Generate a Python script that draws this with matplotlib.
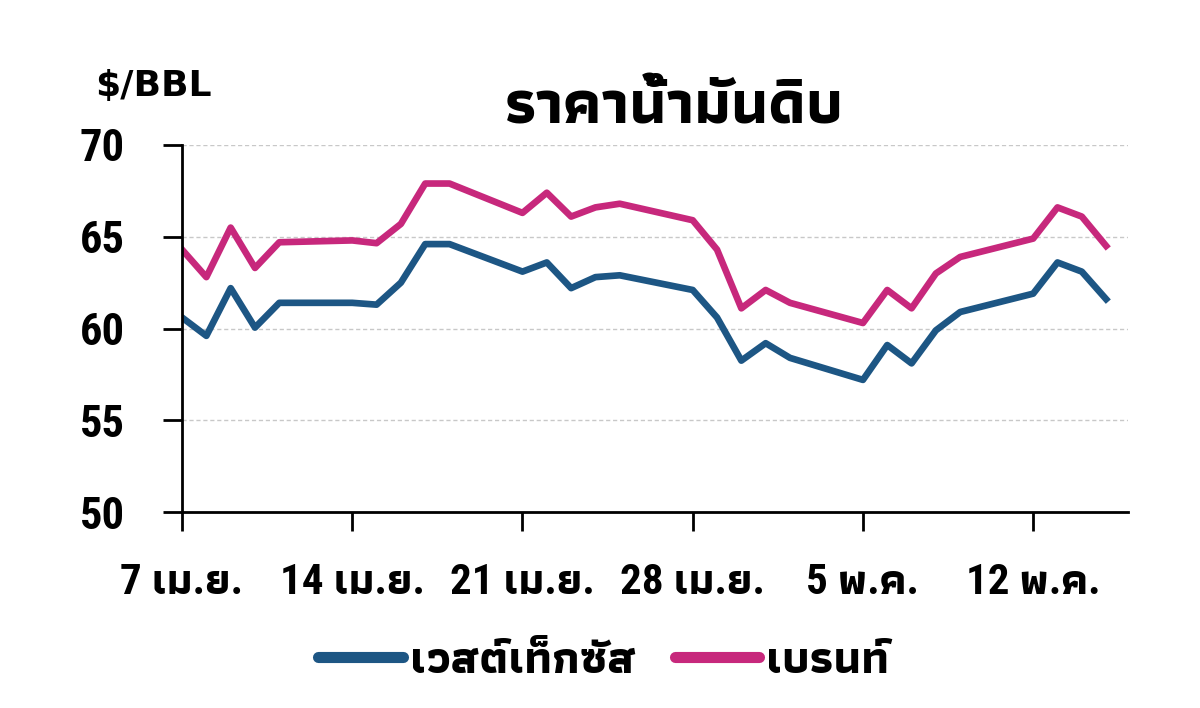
import matplotlib
matplotlib.use("Agg")
import matplotlib.pyplot as plt
from matplotlib import font_manager
import pandas as pd

# ----- data -----
dates = ["2025-04-07", "2025-04-08", "2025-04-09", "2025-04-10", "2025-04-11",
         "2025-04-14", "2025-04-15", "2025-04-16", "2025-04-17", "2025-04-18",
         "2025-04-21", "2025-04-22", "2025-04-23", "2025-04-24", "2025-04-25",
         "2025-04-28", "2025-04-29", "2025-04-30", "2025-05-01", "2025-05-02",
         "2025-05-05", "2025-05-06", "2025-05-07", "2025-05-08", "2025-05-09",
         "2025-05-12", "2025-05-13", "2025-05-14", "2025-05-15"]
wti = [60.6, 59.6, 62.2, 60.05, 61.4,
       61.4, 61.3, 62.5, 64.6, 64.6,
       63.1, 63.6, 62.2, 62.8, 62.9,
       62.1, 60.6, 58.25, 59.2, 58.4,
       57.2, 59.1, 58.1, 59.9, 60.9,
       61.9, 63.6, 63.1, 61.6]
brent = [64.3, 62.8, 65.5, 63.3, 64.7,
         64.8, 64.65, 65.7, 67.9, 67.9,
         66.3, 67.4, 66.1, 66.6, 66.8,
         65.9, 64.3, 61.1, 62.1, 61.4,
         60.3, 62.1, 61.1, 63.0, 63.9,
         64.9, 66.6, 66.1, 64.5]
tick_dates = ["2025-04-07", "2025-04-14", "2025-04-21", "2025-04-28", "2025-05-05", "2025-05-12"]
tick_labels = ["7 เม.ย.", "14 เม.ย.", "21 เม.ย.", "28 เม.ย.", "5 พ.ค.", "12 พ.ค."]
y_ticks = [50, 55, 60, 65, 70]

# condensed latin face for the digits, Thai face for the rest
have = set(f.name for f in font_manager.fontManager.ttflist)
latin = [n for n in ["Roboto Condensed", "Archivo Narrow", "Arimo", "Liberation Sans"] if n in have][:1]
plt.rcParams['font.family'] = latin + ['Athiti', 'DejaVu Sans']
plt.rcParams['font.weight'] = 'bold'

x = pd.to_datetime(dates)

fig = plt.figure(figsize=(12, 7.08), dpi=100)
ax = fig.add_axes([0.1517, 0.2768, 0.7883, 0.5184])

ax.plot(x, wti, color="#1d5684", lw=4.8, label="เวสต์เท็กซัส")
ax.plot(x, brent, color="#c7287c", lw=4.8, label="เบรนท์")

ax.set_ylim(50, 70)
ax.set_xlim(pd.Timestamp("2025-04-07"), pd.Timestamp("2025-04-07") + pd.Timedelta(days=38.9))
ax.set_yticks(y_ticks)
ax.set_xticks(pd.to_datetime(tick_dates))
ax.set_xticklabels(tick_labels)
ax.yaxis.grid(True, color="#c8c8c8", linestyle=(0, (3, 2)), lw=1)
ax.set_axisbelow(True)

for s in ["top", "right"]:
    ax.spines[s].set_visible(False)
for s in ["left", "bottom"]:
    ax.spines[s].set_linewidth(2)
    ax.spines[s].set_color("black")

ax.tick_params(axis="y", length=14, width=2, pad=27, labelsize=32)
ax.tick_params(axis="x", length=14, width=2, pad=22, labelsize=31)

fig.text(0.079, 0.878, "$/BBL", fontsize=26, fontweight="bold", family="DejaVu Sans",
         ha="left", va="center")
fig.text(0.562, 0.826, "ราคาน้ำมันดิบ", fontsize=44, fontweight="bold",
         ha="center", va="baseline")

leg = fig.legend(loc="center", bbox_to_anchor=(0.503, 0.068), ncol=2, frameon=False,
                 fontsize=33, handlelength=1.85, handletextpad=0.15, columnspacing=0.85)
for ln in leg.get_lines():
    ln.set_linewidth(8)
    ln.set_solid_capstyle("round")

fig.savefig("out.png", dpi=100)
